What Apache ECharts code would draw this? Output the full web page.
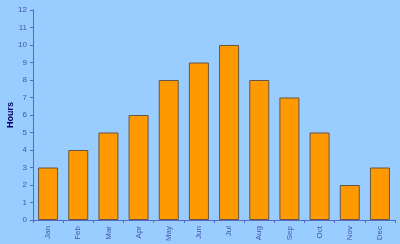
<!DOCTYPE html>
<html><head><meta charset="utf-8">
<script src="https://cdn.jsdelivr.net/npm/echarts@6/dist/echarts.min.js"></script>
<style>html,body{margin:0;padding:0;background:#99CCFF}#c{width:400px;height:244px}</style>
</head><body><div id="c"></div>
<script>
const months = ['Jan','Feb','Mar','Apr','May','Jun','Jul','Aug','Sep','Oct','Nov','Dec'];
const hours = [3,4,5,6,8,9,10,8,7,5,2,3];
const yTicks = {min:0, max:12, interval:1};
const chart = echarts.init(document.getElementById('c'), null, {renderer:'canvas'});
chart.setOption({
  backgroundColor:'#99CCFF',
  animation:false,
  grid:{left:33, right:5, top:10, bottom:24, containLabel:false, outerBoundsMode:'none'},
  xAxis:{type:'category', data:months, boundaryGap:true,
    axisLine:{lineStyle:{color:'#5566CC', width:1}},
    axisTick:{show:true, length:3, lineStyle:{color:'#5566CC'}},
    axisLabel:{rotate:90, fontSize:8, color:'#4455AA', fontFamily:'Liberation Sans', margin:6}},
  yAxis:{type:'value', min:yTicks.min, max:yTicks.max, interval:yTicks.interval,
    name:'Hours', nameLocation:'middle', nameGap:18, nameRotate:90, nameMoveOverlap:false,
    nameTextStyle:{color:'#000066', fontWeight:'bold', fontSize:9, fontFamily:'Liberation Sans'},
    splitLine:{show:false},
    axisLine:{show:true, lineStyle:{color:'#5566CC'}},
    axisTick:{show:true, length:3, lineStyle:{color:'#5566CC'}},
    axisLabel:{fontSize:8, color:'#4455AA', fontFamily:'Liberation Sans', margin:6}},
  series:[{type:'bar', data:hours, barWidth:20,
    itemStyle:{color:'#FF9900', borderColor:'#665544', borderWidth:1}}]
});
</script></body></html>
